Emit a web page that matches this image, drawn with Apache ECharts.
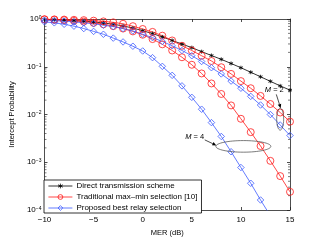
<!DOCTYPE html>
<html><head><meta charset="utf-8">
<script src="https://cdn.jsdelivr.net/npm/echarts@6/dist/echarts.min.js"></script>
<style>html,body{margin:0;padding:0;background:#fff}#c{width:321px;height:242px}</style>
</head><body><div id="c"></div>
<script>
// MER (dB)
const mer = [-10,-9,-8,-7,-6,-5,-4,-3,-2,-1,0,1,2,3,4,5,6,7,8,9,10,11,12,13,14,15];
// Direct transmission scheme
const direct = [0.977,0.966,0.951,0.929,0.902,0.867,0.826,0.776,0.716,0.646,0.569,0.495,0.422,0.355,0.299,0.251,0.207,0.172,0.143,0.117,0.0955,0.0767,0.0617,0.0495,0.0398,0.0324];
// Traditional max-min selection, M = 2
const tradM2 = [0.989,0.982,0.973,0.962,0.946,0.923,0.891,0.851,0.794,0.708,0.617,0.537,0.447,0.355,0.275,0.219,0.170,0.132,0.0977,0.0708,0.0501,0.0355,0.0245,0.0166,0.0110,0.00708];
// Traditional max-min selection, M = 4
const tradM4 = [0.977,0.962,0.944,0.912,0.881,0.832,0.776,0.708,0.631,0.550,0.468,0.380,0.295,0.219,0.158,0.110,0.0724,0.0447,0.0269,0.0155,0.00813,0.00427,0.00219,0.00107,0.000513,0.000240];
// Proposed best relay selection, M = 2
const propM2 = [0.944,0.923,0.902,0.871,0.832,0.794,0.741,0.692,0.631,0.562,0.479,0.407,0.339,0.275,0.219,0.170,0.129,0.0955,0.0708,0.0501,0.0355,0.0240,0.0158,0.0100,0.00603,0.00363];
// Proposed best relay selection, M = 4
const propM4 = [0.871,0.832,0.776,0.708,0.631,0.550,0.479,0.398,0.331,0.269,0.214,0.155,0.102,0.0661,0.0398,0.0229,0.0129,0.00676,0.00347,0.00166,0.000776,0.000363,0.000162,0.0000759];
const xTicks = [-10,-5,0,5,10,15];
const yDecades = [-4,-3,-2,-1,0];
const legendNames = ['Direct transmission scheme','Traditional max\u2013min selection [10]','Proposed best relay selection'];

const FONT = 'Liberation Sans, Arial, Helvetica, sans-serif';
const RED = '#ff1a1a', BLUE = '#3d5cff', BLACK = '#000';
const ASTER = 'path://M0,-10L0,10M-8.66,-5L8.66,5M-8.66,5L8.66,-5';

function pairs(arr){ return arr.map((v,i)=>[mer[i], v]); }

// minor tick positions (2..9 x 10^k) on the log axis
const minorVals = [];
for (let k = -4; k < 0; k++) for (let m = 2; m <= 9; m++) minorVals.push([mer[0], m*Math.pow(10,k)]);

const chart = echarts.init(document.getElementById('c'), null, {renderer:'canvas'});
function expLabel(v){
  const e = Math.round(Math.log10(v));
  return '{b|10}{s|' + String(e).replace('-', '\u2212') + '}';
}
const axisLineStyle = {color:'#222', width:0.8};

function lineSeries(name, data, color, symbol, size){
  return {
    type:'line', name, data: pairs(data), color,
    symbol, symbolSize: size, showSymbol:true,
    lineStyle:{color, width:0.8},
    itemStyle:{color: symbol === 'circle' || symbol === 'diamond' ? 'rgba(255,255,255,0)' : color, borderColor: color, borderWidth: 0.8},
    emphasis:{disabled:true}, animation:false, clip:true, z:3
  };
}

chart.setOption({
  animation:false,
  textStyle:{fontFamily:FONT},
  grid:{left:41, right:31, top:19, bottom:32},
  xAxis:[{
    type:'value', min:xTicks[0], max:xTicks[xTicks.length-1], interval:5,
    name:'MER (dB)', nameLocation:'middle', nameGap:16,
    nameTextStyle:{fontSize:7.5, color:'#000', fontFamily:FONT},
    axisLine:{show:true, onZero:false, lineStyle:axisLineStyle},
    axisTick:{show:true, inside:true, length:3, lineStyle:{color:'#222', width:0.8}},
    axisLabel:{fontSize:8, color:'#000', margin:6, fontFamily:FONT, formatter:v=>String(v).replace('-', '\u2212')},
    splitLine:{show:false}
  },{
    type:'value', position:'top', min:xTicks[0], max:xTicks[xTicks.length-1], interval:5,
    axisLine:{show:true, onZero:false, lineStyle:axisLineStyle},
    axisTick:{show:true, inside:true, length:3, lineStyle:{color:'#222', width:0.8}},
    axisLabel:{show:false}, splitLine:{show:false}
  }],
  yAxis:[{
    type:'log', logBase:10, min:Math.pow(10,yDecades[0]), max:Math.pow(10,yDecades[yDecades.length-1]),
    name:'Intercept Probability', nameLocation:'middle', nameGap:23, nameRotate:90,
    nameTextStyle:{fontSize:7.5, color:'#000', fontFamily:FONT},
    axisLine:{show:true, onZero:false, lineStyle:axisLineStyle},
    axisTick:{show:true, inside:true, length:3, lineStyle:{color:'#222', width:0.8}},
    axisLabel:{margin:3, color:'#000', formatter:expLabel,
      rich:{b:{fontSize:8, fontFamily:FONT, color:'#000'}, s:{fontSize:5, fontFamily:FONT, color:'#000', verticalAlign:'top', lineHeight:6}}},
    splitLine:{show:false}
  },{
    type:'log', logBase:10, position:'right', min:Math.pow(10,yDecades[0]), max:Math.pow(10,yDecades[yDecades.length-1]),
    axisLine:{show:true, onZero:false, lineStyle:axisLineStyle},
    axisTick:{show:true, inside:true, length:3, lineStyle:{color:'#222', width:0.8}},
    axisLabel:{show:false}, splitLine:{show:false}
  }],
  legend:{
    data:legendNames, orient:'vertical', left:44, top:180,
    backgroundColor:'#fff', borderColor:'#000', borderWidth:0.8, borderRadius:0,
    padding:[2,4,1,4], itemGap:3, itemWidth:24, itemHeight:6,
    lineStyle:{width:0.8},
    itemStyle:{borderWidth:0.8},
    textStyle:{fontSize:8, color:'#000', fontFamily:FONT, padding:[0,0,0,-1]},
    selectedMode:false
  },
  series:[
    lineSeries(legendNames[0], direct, BLACK, ASTER, 4),
    lineSeries(legendNames[1], tradM2, RED, 'circle', 7),
    lineSeries(legendNames[1], tradM4, RED, 'circle', 7),
    lineSeries(legendNames[2], propM2, BLUE, 'diamond', 6.5),
    lineSeries(legendNames[2], propM4, BLUE, 'diamond', 6.5),
    {
      type:'custom', name:'minorTicks', data:minorVals, silent:true, clip:false, z:1,
      renderItem:function(params, api){
        const v = api.value(1);
        const l = api.coord([xTicks[0], v]);
        const r = api.coord([xTicks[xTicks.length-1], v]);
        return {type:'group', children:[
          {type:'line', shape:{x1:l[0], y1:l[1], x2:l[0]+2, y2:l[1]}, style:{stroke:'#222', lineWidth:0.6}},
          {type:'line', shape:{x1:r[0], y1:r[1], x2:r[0]-2, y2:r[1]}, style:{stroke:'#222', lineWidth:0.6}}
        ]};
      }
    }
  ]
});

// annotations (M = 2, M = 4) anchored through the axes
function px(x, y){ return chart.convertToPixel({xAxisIndex:0, yAxisIndex:0}, [x, y]); }
function arrow(x1,y1,x2,y2){
  const a = Math.atan2(y2-y1, x2-x1), L = 4, W = 1.8;
  const bx = x2 - L*Math.cos(a), by = y2 - L*Math.sin(a);
  return [
    {type:'line', shape:{x1,y1,x2:bx,y2:by}, style:{stroke:'#000', lineWidth:0.7}, z:10},
    {type:'polygon', shape:{points:[[x2,y2],[bx - W*Math.sin(a), by + W*Math.cos(a)],[bx + W*Math.sin(a), by - W*Math.cos(a)]]}, style:{fill:'#000'}, z:10}
  ];
}
const e2 = px(14, 0.0080);
const e4 = px(10.25, 0.00215);
const t2 = px(13.4, 0.032);
const t4 = px(5.3, 0.0034);
const g = [
  {type:'ellipse', shape:{cx:e2[0], cy:e2[1], rx:3.5, ry:11}, style:{fill:'none', stroke:'#444', lineWidth:0.7}, z:10},
  {type:'ellipse', shape:{cx:e4[0], cy:e4[1], rx:27.5, ry:5.8}, style:{fill:'none', stroke:'#444', lineWidth:0.7}, z:10},
  {type:'text', x:t2[0], y:t2[1], style:{text:'{i|M} = 2', rich:{i:{fontStyle:'italic', fontSize:7.5, fontFamily:FONT}}, fontSize:7.5, fontFamily:FONT, fill:'#000', align:'center', verticalAlign:'middle'}, z:10},
  {type:'text', x:t4[0], y:t4[1], style:{text:'{i|M} = 4', rich:{i:{fontStyle:'italic', fontSize:7.5, fontFamily:FONT}}, fontSize:7.5, fontFamily:FONT, fill:'#000', align:'center', verticalAlign:'middle'}, z:10}
].concat(arrow(t2[0]+2, t2[1]+4, e2[0]+0.5, e2[1]-11))
 .concat(arrow(t4[0]+10, t4[1]+3, e4[0]-27, e4[1]-1));
chart.setOption({graphic:g});
</script>
</body></html>
